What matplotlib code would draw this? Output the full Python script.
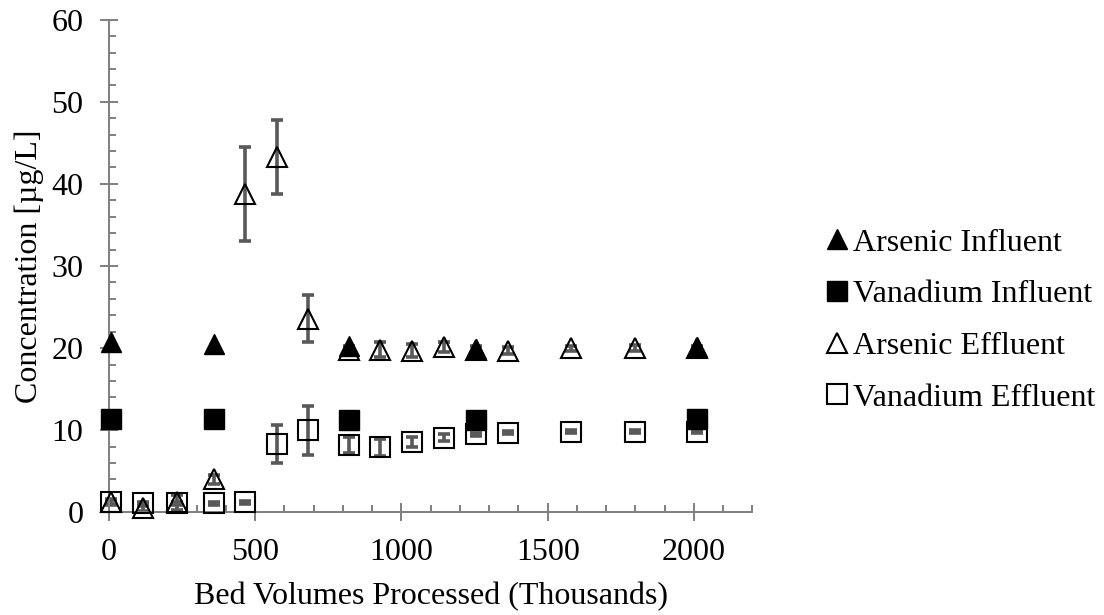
import numpy as np
import matplotlib
matplotlib.use('Agg')
import matplotlib.pyplot as plt
from matplotlib.lines import Line2D
from matplotlib.ticker import MultipleLocator

plt.rcParams['font.family'] = ['Liberation Serif', 'DejaVu Serif']

# bed volumes processed (thousands)
bv = [8, 116, 232, 359, 465, 574, 680, 820, 926, 1035, 1144, 1254, 1363, 1578, 1797, 2012]

bv_infl = [8, 359, 820, 1254, 2012]
as_infl = [20.8, 20.5, 20.2, 19.9, 20.1]
v_infl = [11.4, 11.35, 11.3, 11.3, 11.4]

as_effl = [1.3, 0.5, 1.2, 4.0, 38.8, 43.3, 23.6, 19.8, 19.8, 19.7, 20.1, 19.8, 19.7, 20.0, 20.0, 20.0]
as_effl_err = [0.3, 0.3, 0.9, 0.6, 5.7, 4.5, 2.9, 0.5, 0.9, 0.8, 0.6, 0.5, 0.4, 0.3, 0.4, 0.3]
v_effl = [1.2, 1.1, 1.1, 1.1, 1.2, 8.3, 10.0, 8.2, 7.9, 8.6, 9.1, 9.5, 9.7, 9.8, 9.8, 9.8]
v_effl_err = [0.3, 0.2, 0.2, 0.2, 0.2, 2.3, 3.0, 1.0, 1.0, 0.6, 0.4, 0.2, 0.2, 0.2, 0.2, 0.2]

labels = ['Arsenic Influent', 'Vanadium Influent', 'Arsenic Effluent', 'Vanadium Effluent']

fig = plt.figure(figsize=(11.04, 6.15), dpi=100)
ax = fig.add_axes([0.0987, 0.167, 0.5829, 0.801])

grey = '#7f7f7f'
bar_col = '#595959'
ms = 14
fs = 23

# effluent: white fill below, error bars, then black outline on top
for y, m in [(as_effl, '^'), (v_effl, 's')]:
    ax.plot(bv, y, ls='none', marker=m, ms=ms, mfc='white', mec='none', zorder=2, clip_on=False)
ax.errorbar(bv, as_effl, yerr=as_effl_err, fmt='none', ecolor=bar_col, elinewidth=2.6,
            capsize=4.5, capthick=2.6, zorder=2.5, clip_on=False)
ax.errorbar(bv, v_effl, yerr=v_effl_err, fmt='none', ecolor=bar_col, elinewidth=2.6,
            capsize=4.5, capthick=2.6, zorder=2.5, clip_on=False)
for y, m in [(as_effl, '^'), (v_effl, 's')]:
    ax.plot(bv, y, ls='none', marker=m, ms=ms, mfc='none', mec='black', mew=1.5, zorder=3, clip_on=False)

# influent on top
ax.plot(bv_infl, as_infl, ls='none', marker='^', ms=ms, color='black', zorder=4, clip_on=False)
ax.plot(bv_infl, v_infl, ls='none', marker='s', ms=ms, color='black', zorder=4, clip_on=False)

ax.set_xlim(0, 2200)
ax.set_ylim(0, 60)
ax.xaxis.set_major_locator(MultipleLocator(500))
ax.xaxis.set_minor_locator(MultipleLocator(100))
ax.yaxis.set_major_locator(MultipleLocator(10))
ax.yaxis.set_minor_locator(MultipleLocator(2))

for s in ['top', 'right']:
    ax.spines[s].set_visible(False)
for s in ['left', 'bottom']:
    ax.spines[s].set_color(grey)
    ax.spines[s].set_linewidth(1.4)

ax.tick_params(which='major', direction='inout', length=13, width=1.4, color=grey,
               labelsize=fs)
ax.tick_params(axis='x', which='major', pad=12)
ax.tick_params(axis='y', which='major', pad=12)
ax.tick_params(which='minor', direction='in', length=5, width=1.4, color=grey)

ax.set_xlabel('Bed Volumes Processed (Thousands)', fontsize=fs, labelpad=11)
ax.set_ylabel('Concentration [µg/L]', fontsize=fs, labelpad=5)

handles = [
    Line2D([], [], ls='none', marker='^', ms=ms, color='black'),
    Line2D([], [], ls='none', marker='s', ms=ms, color='black'),
    Line2D([], [], ls='none', marker='^', ms=ms, mfc='white', mec='black', mew=1.5),
    Line2D([], [], ls='none', marker='s', ms=ms, mfc='white', mec='black', mew=1.5),
]
fig.legend(handles, labels, loc='center left', bbox_to_anchor=(0.748, 0.479),
           frameon=False, fontsize=fs, handlelength=0.7, handletextpad=0.15,
           labelspacing=0.7, borderpad=0, borderaxespad=0)

fig.savefig('out.png', dpi=100)
